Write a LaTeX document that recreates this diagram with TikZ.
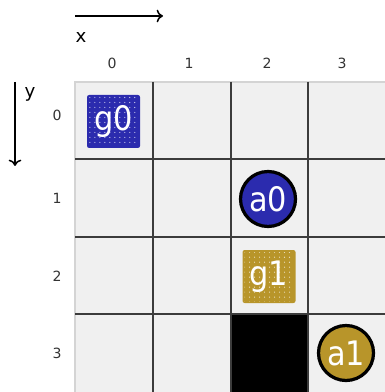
\documentclass[tikz,border=0pt]{standalone}
\usepackage{fontspec}
\setmainfont{DejaVu Sans}
\newfontfamily\bigfont{DejaVu Sans Condensed}
\usetikzlibrary{patterns,arrows.meta}
\pgfdeclarepatternformonly{sparsedots}{\pgfqpoint{-1pt}{-1pt}}{\pgfqpoint{1pt}{1pt}}{\pgfqpoint{3.55pt}{3.55pt}}{%
  \pgfpathcircle{\pgfqpoint{0pt}{0pt}}{0.42pt}\pgfusepath{fill}}
\definecolor{cellbg}{HTML}{F0F0F0}
\definecolor{gridline}{HTML}{3C3C3C}
\definecolor{outerline}{HTML}{D4D4D4}
\definecolor{agblue}{HTML}{2B2BAE}
\definecolor{aggold}{HTML}{B8952A}
\tikzset{
  axis/.style={line width=1.1pt,-{To[length=4.5pt,width=9pt]}},
  lbl/.style={font=\fontsize{10}{12}\selectfont, text=black!80, inner sep=0pt},
  axlbl/.style={font=\fontsize{13}{15}\selectfont, inner sep=0pt},
  goalbox/.style={rounded corners=1.5pt, minimum size=53*0.025cm, inner sep=0pt, font=\bigfont\fontsize{24}{26}\selectfont, text=white},
  agent/.style={circle, draw=black, line width=2.3pt, minimum size=55*0.025cm, inner sep=0pt, font=\bigfont\fontsize{24}{26}\selectfont, text=white},
  dotfill/.style={pattern=sparsedots, pattern color=white!80!#1},
}
\begin{document}
\begin{tikzpicture}[x=0.025cm,y=-0.025cm]
\useasboundingbox (0,0) rectangle (385,392);
% grid
\fill[cellbg] (75,82) rectangle (385,392);
\draw[outerline, line width=1pt] (75,392) -- (75,82) -- (385,82);
\fill[black] (231,314) rectangle (308,392);
\foreach \gx in {153,231,308} \draw[gridline, line width=1.5pt] (\gx,82) -- (\gx,392);
\foreach \gy in {159,237,314} \draw[gridline, line width=1.5pt] (75,\gy) -- (385,\gy);
% axes
\coordinate (xs) at (75,16);
\coordinate (xe) at (163,16);
\coordinate (ys) at (15,82);
\coordinate (ye) at (15,166);
\draw[axis] (xs) -- (xe);
\draw[axis] (ys) -- (ye);
\node[axlbl] (xl) at (81,38) {x};
\node[axlbl] (yl) at (30,94) {y};
% column labels
\node[lbl] (c0) at (112,63) {0};
\node[lbl] (c1) at (189,63) {1};
\node[lbl] (c2) at (267,63) {2};
\node[lbl] (c3) at (342,63) {3};
% row labels
\node[lbl] (r0) at (57,115) {0};
\node[lbl] (r1) at (57,198) {1};
\node[lbl] (r2) at (57,276) {2};
\node[lbl] (r3) at (57,353) {3};
% goals
\node[goalbox, fill=agblue] (g0bg) at (113.5,121.5) {};
\fill[dotfill=agblue] (89,97) rectangle (138,146);
\node[goalbox] (g0) at (113.5,121.5) {g0};
\node[goalbox, fill=aggold] (g1bg) at (269,276.5) {};
\fill[dotfill=aggold] (244.5,252) rectangle (293.5,301);
\node[goalbox] (g1) at (269,276.5) {g1};
% agents
\node[agent, fill=agblue] (a0) at (268,199) {a0};
\node[agent, fill=aggold] (a1) at (346,353) {a1};
\end{tikzpicture}
\end{document}
